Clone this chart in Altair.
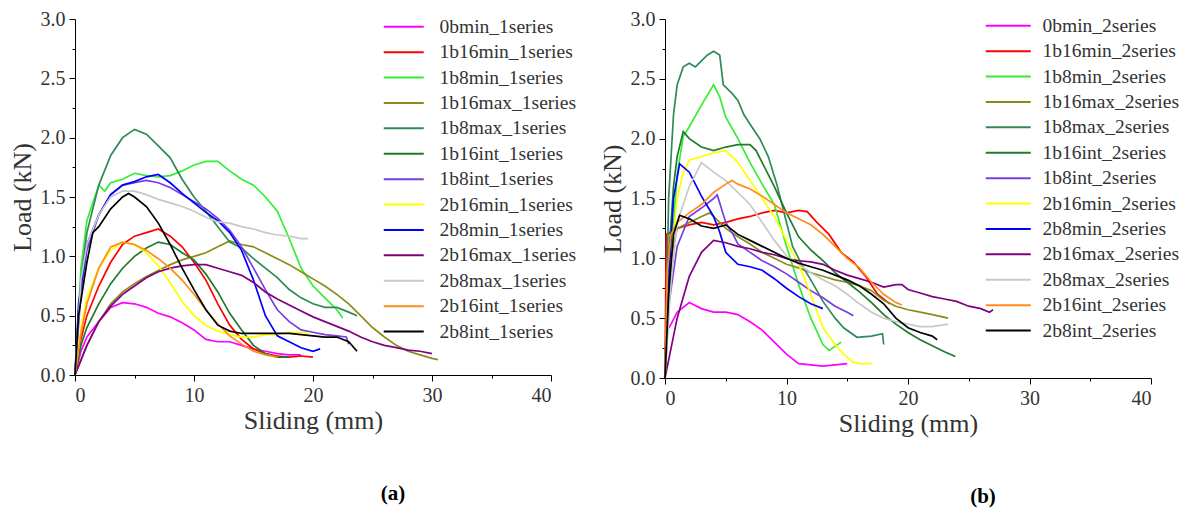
import altair as alt
import pandas as pd

# ---------------- data ----------------
SERIES_KEYS = ["0bmin", "1b16min", "1b8min", "1b16max", "1b8max", "1b16int", "1b8int",
               "2b16min", "2b8min", "2b16max", "2b8max", "2b16int", "2b8int"]
COLORS = ["#ff00ff", "#ff0000", "#33ee33", "#8b8b1a", "#2e8b57", "#1e7a2e", "#7a3de0",
          "#ffff00", "#0000ff", "#800080", "#c8c8c8", "#ff8c1a", "#000000"]

X_TICKS = [0, 10, 20, 30, 40]
X_MINOR = [5, 15, 25, 35]
Y_TICKS = [0.0, 0.5, 1.0, 1.5, 2.0, 2.5, 3.0]
Y_MINOR = [0.25, 0.75, 1.25, 1.75, 2.25, 2.75]

# ----- panel (a): 1 series -----  (sliding mm, load kN)
a_0bmin = [(0,0),(0.5,0.2),(1,0.32),(2,0.45),(3,0.57),(4,0.61),(5,0.6),(6,0.57),(7,0.52),(8,0.49),(9,0.44),(10,0.38),(11,0.3),(12,0.28),(13,0.28),(14,0.25),(15,0.22),(16,0.2),(17,0.18),(18,0.17),(19,0.17)]
a_1b16min = [(0,0),(0.5,0.3),(1,0.5),(2,0.75),(3,0.95),(4,1.1),(5,1.17),(6,1.2),(7,1.23),(8,1.17),(9,1.08),(10,0.95),(11,0.8),(12,0.6),(13,0.42),(14,0.3),(15,0.22),(16,0.18),(17,0.16),(18,0.15),(19,0.16),(20,0.15)]
a_1b8min = [(0,0),(0.5,0.9),(1,1.3),(2,1.6),(2.5,1.55),(3,1.62),(4,1.65),(5,1.7),(6,1.68),(7,1.67),(8,1.68),(9,1.72),(10,1.77),(11,1.8),(12,1.8),(13,1.72),(14,1.65),(15,1.6),(16,1.5),(17,1.38),(18,1.15),(19,0.9),(20,0.75),(21,0.65),(22,0.55),(22.5,0.48)]
a_1b16max = [(0,0),(1,0.25),(2,0.45),(3,0.6),(4,0.7),(5,0.77),(6,0.83),(7,0.88),(8,0.93),(9,0.97),(10,1.0),(11,1.03),(12,1.08),(13,1.13),(14,1.1),(15,1.08),(16,1.03),(17,0.98),(18,0.93),(19,0.87),(20,0.81),(21,0.75),(22,0.68),(23,0.6),(24,0.5),(25,0.4),(26,0.32),(27,0.25),(28,0.2),(29,0.17),(30,0.14),(30.5,0.13)]
a_1b8max = [(0,0),(0.5,0.8),(1,1.2),(2,1.6),(3,1.85),(4,2.0),(5,2.07),(6,2.03),(7,1.93),(8,1.83),(9,1.65),(10,1.5),(11,1.38),(12,1.25),(13,1.12),(14,1.07),(15,0.98),(16,0.9),(17,0.82),(18,0.72),(19,0.65),(20,0.6),(21,0.57),(22,0.57),(23,0.53),(23.7,0.5)]
a_1b16int = [(0,0),(0.5,0.25),(1,0.4),(2,0.6),(3,0.77),(4,0.9),(5,1.0),(6,1.07),(7,1.12),(8,1.1),(9,1.03),(10,0.97),(11,0.85),(12,0.7),(13,0.52),(14,0.38),(15,0.25),(16,0.18),(17,0.15),(18,0.15)]
a_1b8int = [(0,0),(0.5,0.7),(1,1.05),(2,1.35),(3,1.52),(4,1.6),(5,1.62),(6,1.64),(7,1.62),(8,1.58),(9,1.52),(10,1.46),(11,1.4),(12,1.32),(13,1.22),(14,1.08),(15,0.9),(16,0.72),(17,0.55),(18,0.45),(19,0.38),(20,0.36),(21,0.34),(22,0.33),(22.8,0.32),(23,0.26)]
a_2b16min = [(0,0),(0.5,0.4),(1,0.65),(2,0.9),(3,1.05),(4,1.12),(5,1.1),(6,1.03),(7,0.92),(8,0.78),(9,0.62),(10,0.5),(11,0.42),(12,0.37),(13,0.34),(14,0.32),(15,0.32),(16,0.34),(17,0.34),(18,0.36),(19,0.36),(19.7,0.35)]
a_2b8min = [(0,0),(0.3,0.6),(1,1.1),(2,1.35),(3,1.52),(4,1.6),(5,1.63),(6,1.67),(7,1.69),(8,1.62),(9,1.53),(10,1.45),(11,1.37),(12,1.3),(13,1.2),(14,1.05),(15,0.8),(16,0.5),(17,0.33),(18,0.28),(19,0.23),(20,0.2),(20.6,0.22)]
a_2b16max = [(0,0),(1,0.25),(2,0.45),(3,0.58),(4,0.68),(5,0.75),(6,0.82),(7,0.87),(8,0.9),(9,0.92),(10,0.93),(11,0.93),(12,0.9),(13,0.87),(14,0.84),(15,0.78),(16,0.7),(17,0.64),(18,0.59),(19,0.54),(20,0.49),(21,0.45),(22,0.41),(23,0.37),(24,0.32),(25,0.28),(26,0.25),(27,0.23),(28,0.21),(29,0.2),(30,0.18)]
a_2b8max = [(0,0),(0.5,0.8),(1,1.1),(2,1.35),(3,1.5),(4,1.55),(5,1.55),(6,1.52),(7,1.48),(8,1.45),(9,1.42),(10,1.38),(11,1.33),(12,1.29),(13,1.28),(14,1.25),(15,1.23),(16,1.2),(17,1.18),(18,1.17),(19,1.15),(19.6,1.15)]
a_2b16int = [(0,0),(0.5,0.35),(1,0.6),(2,0.9),(3,1.08),(4,1.12),(5,1.1),(6,1.05),(7,0.98),(8,0.9),(9,0.8),(10,0.68),(11,0.55),(12,0.43),(13,0.33),(14,0.26),(15,0.2),(16,0.17),(17,0.15)]
a_2b8int = [(0,0),(0.3,0.5),(1,0.95),(1.5,1.2),(2,1.25),(3,1.4),(4,1.5),(4.5,1.53),(5,1.5),(6,1.42),(7,1.28),(8,1.1),(9,0.9),(10,0.72),(11,0.55),(12,0.42),(13,0.37),(14,0.35),(15,0.35),(16,0.35),(17,0.35),(18,0.35),(19,0.34),(20,0.33),(21,0.32),(22,0.32),(23,0.28),(23.7,0.2)]

# ----- panel (b): 2 series -----
b_0bmin = [(0,0),(0.2,0.4),(0.5,0.45),(1,0.55),(2,0.63),(3,0.58),(4,0.55),(5,0.55),(6,0.53),(7,0.47),(8,0.4),(9,0.3),(10,0.2),(11,0.12),(12,0.11),(13,0.1),(14,0.11),(15,0.12)]
b_1b16min = [(0,0),(0.1,1.2),(0.5,1.22),(1,1.25),(2,1.28),(3,1.3),(4,1.28),(5,1.3),(6,1.33),(7,1.35),(8,1.38),(9,1.4),(10,1.38),(11,1.4),(11.7,1.39),(12.5,1.3),(13.5,1.2),(14.5,1.05),(15.5,0.97),(16.5,0.85),(17.5,0.7),(18.5,0.62)]
b_1b8min = [(0,0),(0.5,1.0),(1,1.7),(1.5,2.02),(2,2.1),(3,2.28),(4,2.45),(4.5,2.35),(5,2.18),(6,2.0),(7,1.8),(8,1.62),(9,1.45),(10,1.1),(11,0.78),(12,0.5),(13,0.28),(13.5,0.23),(14.5,0.3)]
b_1b16max = [(0,0),(0.3,0.9),(1,1.25),(2,1.3),(3,1.35),(3.7,1.38),(4.5,1.3),(5,1.25),(6,1.18),(7,1.12),(8,1.05),(9,1.0),(10,0.95),(11,0.92),(12,0.88),(13,0.85),(14,0.82),(15,0.8),(16,0.77),(17,0.73),(18,0.65),(19,0.6),(20,0.57),(21,0.55),(22,0.53),(23.3,0.5)]
b_1b8max = [(0,0),(0.3,1.5),(0.7,2.2),(1,2.45),(1.5,2.6),(2,2.63),(2.5,2.6),(3,2.65),(3.5,2.7),(4,2.73),(4.5,2.7),(4.8,2.45),(5.5,2.38),(6,2.32),(6.5,2.2),(7,2.12),(7.8,2.0),(8.5,1.85),(9.2,1.62),(10,1.3),(10.5,1.1),(11.4,0.92),(12,0.82),(13,0.64),(14,0.5),(14.7,0.42),(15.8,0.34),(17,0.35),(17.9,0.37),(18,0.28)]
b_1b16int = [(0,0),(0.3,1.0),(0.7,1.6),(1,1.85),(1.5,2.06),(2,2.0),(3,1.93),(4,1.9),(5,1.93),(6,1.95),(7,1.95),(7.5,1.9),(8,1.8),(9,1.6),(10,1.38),(11,1.18),(12,1.07),(13,0.98),(14,0.88),(15,0.8),(16,0.72),(17,0.63),(18,0.53),(19,0.45),(20,0.38),(21,0.32),(22,0.27),(23,0.22),(23.9,0.18)]
b_1b8int = [(0,0),(0.3,0.6),(1,1.1),(2,1.35),(3,1.42),(4,1.5),(4.3,1.53),(5,1.3),(5.6,1.2),(6,1.12),(7,1.05),(8,0.98),(9,0.93),(10,0.87),(11,0.8),(12,0.73),(13,0.67),(14,0.6),(15,0.55),(15.5,0.52)]
b_2b16min = [(0,0),(0.3,0.8),(1,1.5),(1.5,1.72),(2,1.82),(3,1.85),(4,1.88),(5,1.9),(6,1.8),(7,1.65),(8,1.5),(9,1.35),(10,1.15),(11,0.95),(12,0.7),(13,0.42),(14,0.28),(14.7,0.2),(15.5,0.13),(16,0.12),(17,0.12)]
b_2b8min = [(0,0),(0.3,0.8),(0.7,1.5),(1.2,1.79),(2,1.72),(3,1.52),(4,1.35),(4.5,1.22),(5,1.05),(6,0.95),(7,0.93),(8,0.9),(9,0.83),(10,0.75),(11,0.68),(12,0.62),(13,0.58)]
b_2b16max = [(0,0),(0.5,0.25),(1,0.5),(2,0.85),(3,1.05),(4,1.15),(5,1.13),(6,1.1),(7,1.08),(8,1.05),(9,1.03),(10,1.0),(11,0.98),(12,0.97),(13,0.95),(14,0.9),(15,0.86),(16,0.83),(17,0.8),(18,0.76),(19,0.78),(19.5,0.78),(20,0.74),(21,0.71),(22,0.68),(23,0.66),(24,0.64),(25,0.6),(26,0.58),(26.7,0.55),(27,0.57)]
b_2b8max = [(0,0),(0.5,0.8),(1,1.3),(2,1.6),(3,1.8),(4,1.72),(5,1.65),(6,1.55),(7,1.45),(8,1.3),(9,1.15),(10,1.02),(11,0.95),(12,0.88),(13,0.82),(14,0.77),(15,0.7),(16,0.62),(17,0.55),(18,0.5),(19,0.47),(20,0.45),(21,0.43),(22,0.43),(23.3,0.45)]
b_2b16int = [(0,0),(0.2,0.9),(0.5,1.2),(1,1.3),(2,1.38),(3,1.45),(4,1.55),(5,1.62),(5.5,1.65),(6,1.62),(7,1.58),(8,1.52),(9,1.45),(10,1.38),(11,1.33),(12,1.28),(13,1.2),(14,1.1),(15,1.0),(16,0.92),(17,0.8),(18,0.7),(19,0.63),(19.5,0.61)]
b_2b8int = [(0,0),(0.3,0.7),(0.7,1.2),(1.2,1.36),(2,1.33),(3,1.27),(4,1.25),(5,1.28),(6,1.2),(7,1.15),(8,1.1),(9,1.05),(10,1.0),(11,0.96),(12,0.93),(13,0.9),(14,0.86),(15,0.82),(16,0.77),(17,0.7),(18,0.62),(19,0.5),(20,0.42),(21,0.38),(22,0.35),(22.4,0.32)]

A_DATA = [a_0bmin, a_1b16min, a_1b8min, a_1b16max, a_1b8max, a_1b16int, a_1b8int,
          a_2b16min, a_2b8min, a_2b16max, a_2b8max, a_2b16int, a_2b8int]
B_DATA = [b_0bmin, b_1b16min, b_1b8min, b_1b16max, b_1b8max, b_1b16int, b_1b8int,
          b_2b16min, b_2b8min, b_2b16max, b_2b8max, b_2b16int, b_2b8int]

FONT = "Liberation Serif"


def make_frame(data, suffix):
    rows = []
    for key, pts in zip(SERIES_KEYS, data):
        for i, (x, y) in enumerate(pts):
            rows.append({"series": f"{key}_{suffix}", "x": x, "y": y, "i": i})
    return pd.DataFrame(rows)


def panel(data, suffix, label, width, height, legend_x, legend_y, sym_path, label_offset, dx):
    df = make_frame(data, suffix)
    names = [f"{k}_{suffix}" for k in SERIES_KEYS]
    xs = alt.Scale(domain=[0, 40], nice=False)
    ys = alt.Scale(domain=[0, 3], nice=False)
    major_x = alt.Axis(values=X_TICKS, format="d", grid=False, tickSize=6, labelPadding=4,
                       domainColor="#000", tickColor="#000", labelColor="#333",
                       labelFont=FONT, labelFontSize=20, title="Sliding (mm)",
                       titleFont=FONT, titleFontSize=26, titleFontWeight="normal",
                       titleColor="#333", titlePadding=2, orient="bottom")
    major_y = alt.Axis(values=Y_TICKS, format=".1f", grid=False, tickSize=6, labelPadding=4,
                       domainColor="#000", tickColor="#000", labelColor="#333",
                       labelFont=FONT, labelFontSize=20, title="Load (kN)",
                       titleFont=FONT, titleFontSize=26, titleFontWeight="normal",
                       titleColor="#333", titlePadding=5, orient="left")
    lines = alt.Chart(df).mark_line(strokeWidth=1.7).encode(
        x=alt.X("x:Q", scale=xs, axis=major_x),
        y=alt.Y("y:Q", scale=ys, axis=major_y),
        color=alt.Color("series:N", sort=names,
                        scale=alt.Scale(domain=names, range=COLORS),
                        legend=alt.Legend(orient="none", legendX=legend_x, legendY=legend_y,
                                          title="", symbolType=sym_path, symbolSize=100,
                                          symbolStrokeWidth=2, labelFont=FONT,
                                          labelFontSize=19.5, labelColor="#333",
                                          labelOffset=label_offset, rowPadding=4.4,
                                          padding=0, symbolLimit=20)),
        order=alt.Order("i:Q"),
    )
    minor = alt.Chart(pd.DataFrame({"x": X_MINOR[:1], "y": Y_MINOR[:1]})).mark_point(opacity=0).encode(
        x=alt.X("x:Q", scale=xs, axis=alt.Axis(values=X_MINOR, labels=False, domain=False, grid=False,
                                               tickSize=3, tickColor="#000", title="", orient="bottom")),
        y=alt.Y("y:Q", scale=ys, axis=alt.Axis(values=Y_MINOR, labels=False, domain=False, grid=False,
                                               tickSize=3, tickColor="#000", title="", orient="left")),
    )
    return alt.layer(lines, minor).resolve_axis(x="independent", y="independent").properties(
        width=width, height=height,
        title=alt.TitleParams(text=label, orient="bottom", anchor="middle", dx=dx, offset=50,
                              font=FONT, fontSize=21, fontWeight="bold", color="#000"))


left = panel(A_DATA, "1series", "(a)", 476, 356, 334, -2, "M-7,0H1", 11, 80)
right = panel(B_DATA, "2series", "(b)", 486, 359, 351, -3, "M-8,0H1", 7, 75)

chart = alt.hconcat(left, right, spacing=114, bounds="flush").resolve_scale(
    color="independent").properties(
    padding={"left": 0, "top": 0, "right": 0, "bottom": 0}
).configure_view(stroke="transparent")

chart.save("out.html", embed_options={"renderer": "svg", "actions": False})
